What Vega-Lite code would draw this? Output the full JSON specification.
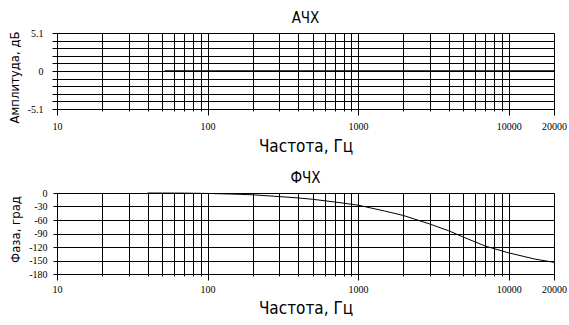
{
  "$schema": "https://vega.github.io/schema/vega-lite/v6.json",
  "padding": {"left": 8, "top": 11, "right": 5, "bottom": 0},
  "background": "white",
  "spacing": 17,
  "datasets": {
    "amp": [
      {"f": 52, "a": 0}, {"f": 100, "a": 0}, {"f": 1000, "a": 0}, {"f": 10000, "a": 0}, {"f": 20000, "a": 0}
    ],
    "phase": [
      {"f": 40, "p": 0}, {"f": 70, "p": -0.3}, {"f": 100, "p": -1}, {"f": 150, "p": -2.5}, {"f": 200, "p": -4},
      {"f": 300, "p": -8}, {"f": 400, "p": -11}, {"f": 500, "p": -14}, {"f": 700, "p": -20}, {"f": 1000, "p": -27},
      {"f": 1500, "p": -40}, {"f": 2000, "p": -50}, {"f": 3000, "p": -69}, {"f": 4000, "p": -84}, {"f": 5000, "p": -98},
      {"f": 7000, "p": -118}, {"f": 10000, "p": -133}, {"f": 15000, "p": -147}, {"f": 20000, "p": -154}
    ]
  },
  "config": {
    "view": {"stroke": null},
    "axis": {
      "gridColor": "black", "gridOpacity": 1, "gridWidth": 1,
      "domainColor": "black", "tickColor": "black",
      "labelFont": "Liberation Serif", "labelFontSize": 10, "labelColor": "black",
      "titleFont": "DejaVu Sans Condensed, sans-serif", "titleFontWeight": "normal", "titleColor": "black"
    },
    "title": {"font": "DejaVu Sans Condensed, sans-serif", "fontWeight": "normal", "fontSize": 15, "color": "black", "offset": 2}
  },
  "vconcat": [
    {
      "title": "АЧХ",
      "width": 497, "height": 76,
      "data": {"name": "amp"},
      "mark": {"type": "line", "color": "black", "strokeWidth": 1.6},
      "encoding": {
        "x": {"field": "f", "type": "quantitative",
          "scale": {"type": "log", "domain": [10, 20000], "nice": false},
          "axis": {
            "title": "Частота, Гц", "titleFontSize": 17, "titlePadding": 7,
            "values": [10,20,30,40,50,60,70,80,90,100,200,300,400,500,600,700,800,900,1000,2000,3000,4000,5000,6000,7000,8000,9000,10000,20000],
            "labelExpr": "indexof([10,100,1000,10000,20000], datum.value) >= 0 ? toString(datum.value) : ''",
            "tickSize": {"condition": {"test": "indexof([10,100,1000,10000,20000], datum.value) >= 0", "value": 6}, "value": 2},
            "labelPadding": 6, "labelFlush": false, "labelOverlap": false
          }},
        "y": {"field": "a", "type": "quantitative",
          "scale": {"domain": [-5.1, 5.1], "nice": false, "zero": false},
          "axis": {
            "title": "Амплитуда, дБ", "titleFontSize": 13, "titlePadding": 6, "titleY": 44,
            "values": [-5.1,-4.08,-3.06,-2.04,-1.02,0,1.02,2.04,3.06,4.08,5.1],
            "labelExpr": "datum.value == 0 ? '0' : (datum.value > 5 ? '5.1' : (datum.value < -5 ? '-5.1' : ''))",
            "tickSize": 5, "labelPadding": 9, "labelOverlap": false, "labelFlush": false
          }}
      }
    },
    {
      "title": "ФЧХ",
      "width": 497, "height": 81,
      "data": {"name": "phase"},
      "mark": {"type": "line", "color": "black", "strokeWidth": 1},
      "encoding": {
        "x": {"field": "f", "type": "quantitative",
          "scale": {"type": "log", "domain": [10, 20000], "nice": false},
          "axis": {
            "title": "Частота, Гц", "titleFontSize": 17, "titlePadding": 6,
            "values": [10,20,30,40,50,60,70,80,90,100,200,300,400,500,600,700,800,900,1000,2000,3000,4000,5000,6000,7000,8000,9000,10000,20000],
            "labelExpr": "indexof([10,100,1000,10000,20000], datum.value) >= 0 ? toString(datum.value) : ''",
            "tickSize": {"condition": {"test": "indexof([10,100,1000,10000,20000], datum.value) >= 0", "value": 6}, "value": 2},
            "labelPadding": 4, "labelFlush": false, "labelOverlap": false
          }},
        "y": {"field": "p", "type": "quantitative",
          "scale": {"domain": [-180, 0], "nice": false, "zero": false},
          "axis": {
            "title": "Фаза, град", "titleFontSize": 13, "titlePadding": 6, "titleY": 36,
            "values": [-180,-150,-120,-90,-60,-30,0],
            "labelExpr": "toString(datum.value)",
            "tickSize": 4, "labelPadding": 6, "labelOverlap": false, "labelFlush": false
          }}
      }
    }
  ]
}
